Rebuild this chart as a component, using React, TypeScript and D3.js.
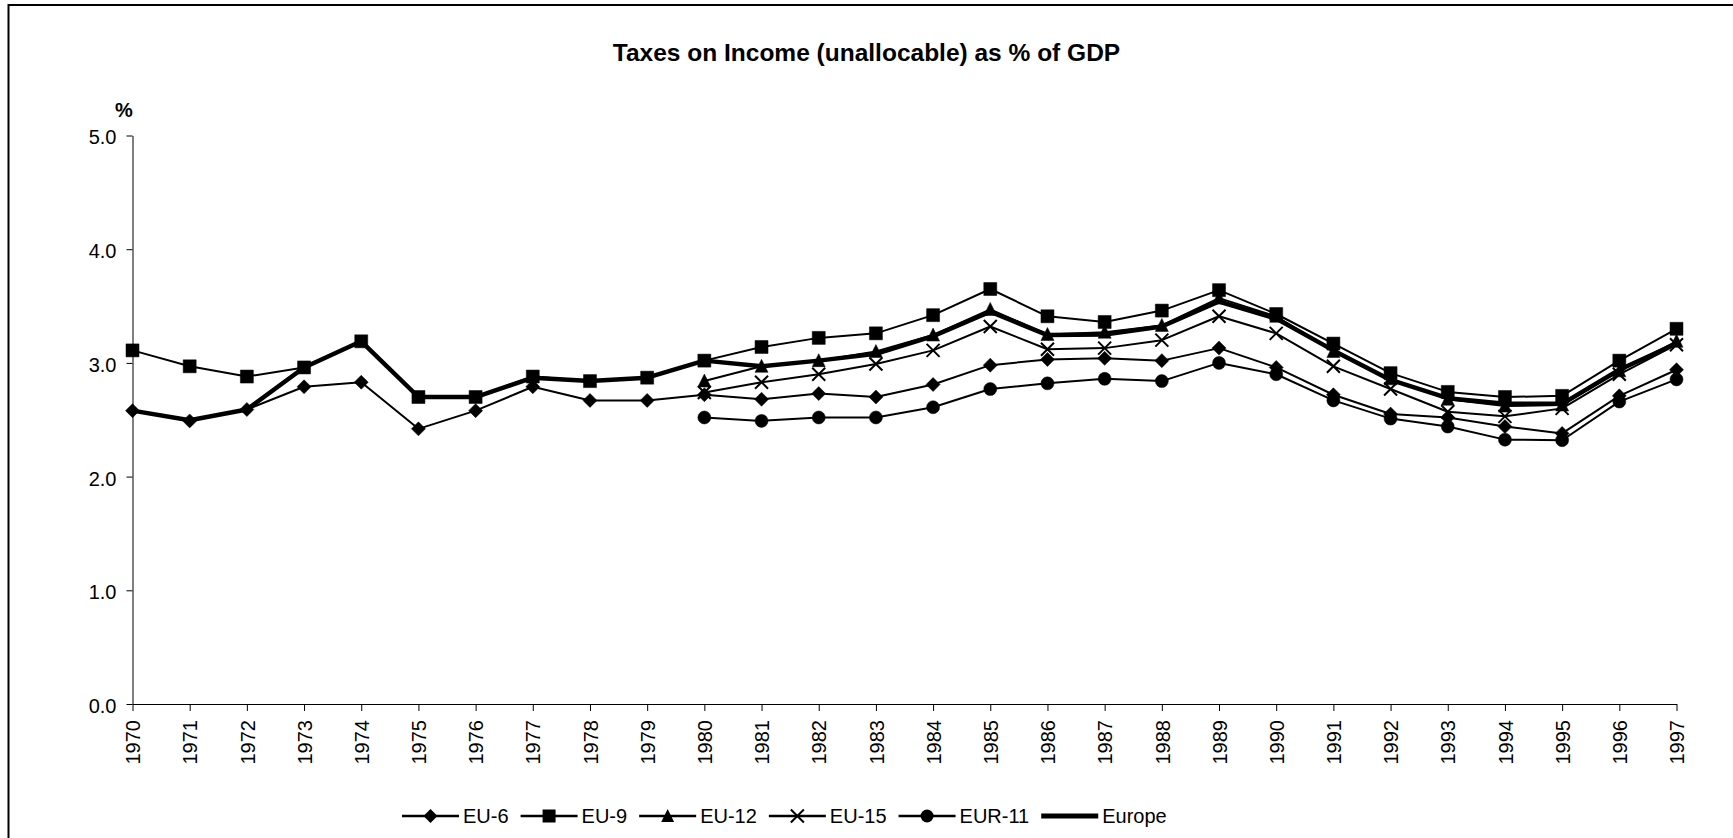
import React, { useEffect, useRef } from "react";
import * as d3 from "d3";

const years = [1970,1971,1972,1973,1974,1975,1976,1977,1978,1979,1980,1981,1982,1983,1984,1985,1986,1987,1988,1989,1990,1991,1992,1993,1994,1995,1996,1997];

const eu6 = [2.58,2.49,2.59,2.79,2.83,2.42,2.58,2.79,2.67,2.67,2.72,2.68,2.73,2.70,2.81,2.98,3.03,3.04,3.02,3.13,2.96,2.72,2.55,2.52,2.44,2.38,2.71,2.94];
const eu9 = [3.11,2.97,2.88,2.96,3.19,2.70,2.70,2.88,2.84,2.87,3.02,3.14,3.22,3.26,3.42,3.65,3.41,3.36,3.46,3.64,3.43,3.17,2.91,2.745,2.70,2.71,3.02,3.30];
const eu12 = [null,null,null,null,null,null,null,null,null,null,2.84,2.97,3.02,3.10,3.245,3.47,3.25,3.27,3.33,3.57,3.41,3.10,2.86,2.68,2.62,2.63,2.93,3.19];
const eu15 = [null,null,null,null,null,null,null,null,null,null,2.74,2.83,2.90,2.99,3.11,3.32,3.12,3.13,3.20,3.41,3.26,2.97,2.77,2.57,2.53,2.60,2.90,3.16];
const eur11 = [null,null,null,null,null,null,null,null,null,null,2.52,2.49,2.52,2.52,2.61,2.77,2.82,2.86,2.84,3.00,2.90,2.67,2.51,2.44,2.325,2.32,2.66,2.855];
const europe = [2.58,2.495,2.59,2.96,3.19,2.70,2.70,2.87,2.84,2.87,3.02,2.97,3.02,3.08,3.235,3.45,3.245,3.25,3.32,3.54,3.39,3.11,2.85,2.69,2.64,2.64,2.94,3.17];

const yTicks = [0, 1, 2, 3, 4, 5];
const seriesNames = ["EU-6", "EU-9", "EU-12", "EU-15", "EUR-11", "Europe"];
const seriesValues = [eu6, eu9, eu12, eu15, eur11, europe];
const seriesMarkers = ["diamond", "square", "triangle", "x", "circle", "none"];

const FONT = "'Liberation Sans', Arial, sans-serif";

function markerPath(type: string, cx: number, cy: number): string {
  if (type === "diamond") {
    const r = 7;
    return `M${cx},${cy - r}L${cx + r},${cy}L${cx},${cy + r}L${cx - r},${cy}Z`;
  }
  if (type === "square") {
    const h = 6.5;
    return `M${cx - h},${cy - h}h${2 * h}v${2 * h}h${-2 * h}Z`;
  }
  if (type === "triangle") {
    const h = 6.5;
    return `M${cx},${cy - h - 0.5}L${cx + h},${cy + h - 0.5}L${cx - h},${cy + h - 0.5}Z`;
  }
  if (type === "x") {
    const h = 6.5;
    return `M${cx - h},${cy - h}L${cx + h},${cy + h}M${cx - h},${cy + h}L${cx + h},${cy - h}`;
  }
  if (type === "circle") {
    const r = 6.5;
    return `M${cx - r},${cy}a${r},${r} 0 1,0 ${2 * r},0a${r},${r} 0 1,0 ${-2 * r},0Z`;
  }
  return "";
}

export default function App() {
  const ref = useRef<SVGSVGElement | null>(null);

  useEffect(() => {
    const svg = d3.select(ref.current);
    svg.selectAll("*").remove();

    const x = d3.scalePoint<number>().domain(years).range([132.5, 1676.5]);
    const y = d3.scaleLinear().domain([0, 5]).range([704, 135.5]);

    // border
    svg.append("rect")
      .attr("x", 8.5).attr("y", 5)
      .attr("width", 1760).attr("height", 900)
      .attr("fill", "none").attr("stroke", "#000").attr("stroke-width", 2);

    // title
    svg.append("text")
      .attr("x", 866.5).attr("y", 60.5)
      .attr("text-anchor", "middle")
      .attr("font-family", FONT).attr("font-weight", "bold").attr("font-size", 24.5)
      .text("Taxes on Income (unallocable) as % of GDP");

    svg.append("text")
      .attr("x", 124).attr("y", 117)
      .attr("text-anchor", "middle")
      .attr("font-family", FONT).attr("font-weight", "bold").attr("font-size", 20)
      .text("%");

    // y axis
    const gy = svg.append("g").attr("transform", "translate(132.5,0)")
      .call(d3.axisLeft(y).tickValues(yTicks).tickFormat(d3.format(".1f")).tickSize(6).tickSizeOuter(0).tickPadding(10));
    gy.select(".domain").attr("stroke", "#000");
    gy.selectAll(".tick line").attr("stroke", "#000");
    gy.selectAll(".tick text").attr("font-family", FONT).attr("font-size", 20).attr("fill", "#000").attr("dy", "0.42em");

    // x axis
    const gx = svg.append("g").attr("transform", "translate(0,704)")
      .call(d3.axisBottom(x).tickSize(7).tickSizeOuter(0));
    gx.select(".domain").attr("stroke", "#000");
    gx.selectAll(".tick line").attr("stroke", "#000");
    gx.selectAll(".tick text")
      .attr("font-family", FONT).attr("font-size", 20).attr("fill", "#000")
      .attr("text-anchor", "end")
      .attr("transform", "rotate(-90)")
      .attr("x", -16).attr("y", 0).attr("dy", "0.36em");

    // lines
    const line = d3.line<number | null>()
      .defined((d) => d !== null)
      .x((_, i) => x(years[i]) as number)
      .y((d) => y(d as number));

    const plot = svg.append("g");
    seriesValues.forEach((vals, si) => {
      plot.append("path")
        .attr("d", line(vals as (number | null)[]) || "")
        .attr("fill", "none")
        .attr("stroke", "#000")
        .attr("stroke-width", seriesNames[si] === "Europe" ? 4.5 : 2)
        .attr("stroke-linejoin", "round");
    });

    // markers
    seriesValues.forEach((vals, si) => {
      const m = seriesMarkers[si];
      if (m === "none") return;
      (vals as (number | null)[]).forEach((v, i) => {
        if (v === null) return;
        const cx = x(years[i]) as number;
        const cy = y(v);
        const p = plot.append("path").attr("d", markerPath(m, cx, cy));
        if (m === "x") p.attr("fill", "none").attr("stroke", "#000").attr("stroke-width", 2);
        else p.attr("fill", "#000").attr("stroke", "#000").attr("stroke-width", 0.5);
      });
    });

    // legend
    const lg = svg.append("g");
    let cur = 402;
    const ly = 816;
    seriesNames.forEach((name, si) => {
      const lineLen = 57;
      lg.append("line")
        .attr("x1", cur).attr("x2", cur + lineLen)
        .attr("y1", ly).attr("y2", ly)
        .attr("stroke", "#000")
        .attr("stroke-width", name === "Europe" ? 5 : 2.5);
      const m = seriesMarkers[si];
      if (m !== "none") {
        const p = lg.append("path").attr("d", markerPath(m, cur + lineLen / 2, ly));
        if (m === "x") p.attr("fill", "none").attr("stroke", "#000").attr("stroke-width", 2);
        else p.attr("fill", "#000");
      }
      cur += lineLen + 4;
      const t = lg.append("text")
        .attr("x", cur).attr("y", ly).attr("dy", "0.36em")
        .attr("font-family", FONT).attr("font-size", 20)
        .text(name);
      const w = (t.node() as SVGTextElement).getComputedTextLength();
      cur += w + 12;
    });
  }, []);

  return (
    <svg
      ref={ref}
      width={1733}
      height={838}
      style={{ position: "absolute", left: 0, top: 0, display: "block", background: "#fff" }}
    />
  );
}
